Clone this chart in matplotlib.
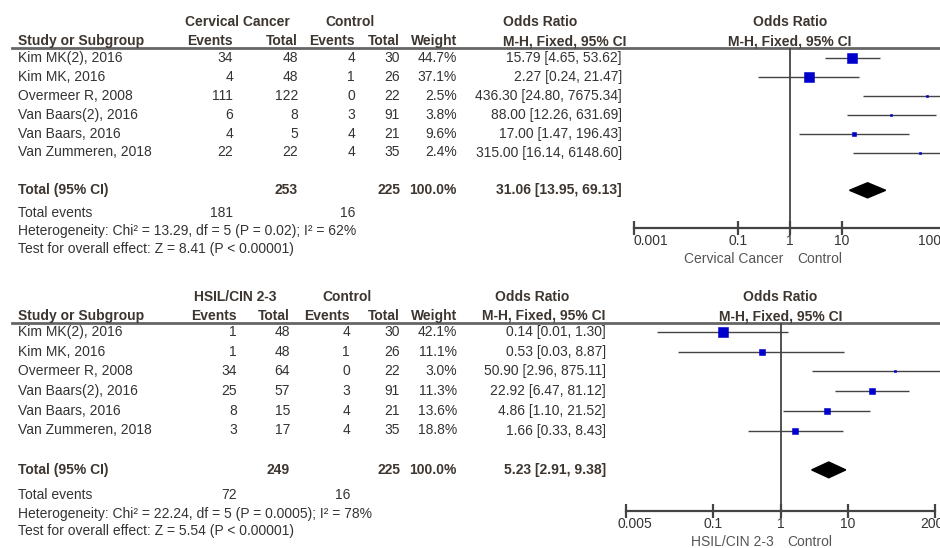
import numpy as np
import matplotlib.pyplot as plt
from matplotlib.ticker import NullLocator, FixedLocator

plt.rcParams['font.family'] = ['Liberation Sans', 'DejaVu Sans']

W, H = 940, 548
FS = 10
TXT = '#333333'
HDR = '#3d3630'
LINE = '#444444'
BLUE = '#0000cc'

studies = ["Kim MK(2), 2016", "Kim MK, 2016", "Overmeer R, 2008",
           "Van Baars(2), 2016", "Van Baars, 2016", "Van Zummeren, 2018"]

ctrl_events = [4, 1, 0, 3, 4, 4]
ctrl_total = [30, 26, 22, 91, 21, 35]

# cervical cancer vs control
cc_events = [34, 4, 111, 6, 4, 22]
cc_total = [48, 48, 122, 8, 5, 22]
cc_weight = [44.7, 37.1, 2.5, 3.8, 9.6, 2.4]
cc_or = [15.79, 2.27, 436.30, 88.00, 17.00, 315.00]
cc_lo = [4.65, 0.24, 24.80, 12.26, 1.47, 16.14]
cc_hi = [53.62, 21.47, 7675.34, 631.69, 196.43, 6148.60]
cc_pooled = [31.06, 13.95, 69.13]
cc_sums = [253, 225, 181, 16]
cc_het = [13.29, 5, "0.02", 62]
cc_z = [8.41, "< 0.00001"]
cc_ticks = [0.001, 0.1, 1, 10, 1000]
cc_ticklabels = ["0.001", "0.1", "1", "10", "1000"]

# HSIL/CIN 2-3 vs control
hs_events = [1, 1, 34, 25, 8, 3]
hs_total = [48, 48, 64, 57, 15, 17]
hs_weight = [42.1, 11.1, 3.0, 11.3, 13.6, 18.8]
hs_or = [0.14, 0.53, 50.90, 22.92, 4.86, 1.66]
hs_lo = [0.0147, 0.03, 2.96, 6.47, 1.10, 0.33]
hs_hi = [1.30, 8.87, 875.11, 81.12, 21.52, 8.43]
hs_pooled = [5.23, 2.91, 9.38]
hs_sums = [249, 225, 72, 16]
hs_het = [22.24, 5, "0.0005", 78]
hs_z = [5.54, "< 0.00001"]
hs_ticks = [0.005, 0.1, 1, 10, 200]
hs_ticklabels = ["0.005", "0.1", "1", "10", "200"]

fig = plt.figure(figsize=(W / 100, H / 100), dpi=100)
bg = fig.add_axes([0, 0, 1, 1])
bg.set_xlim(0, W)
bg.set_ylim(H, 0)
bg.axis('off')


def txt(x, y, s, ha='left', bold=False, color=None):
    bg.text(x, y, s, ha=ha, va='center', fontsize=FS,
            fontweight='bold' if bold else 'normal',
            color=color or (HDR if bold else TXT))


def panel(top, group, ev, tot, wt, ors, lo, hi, pooled, sums, het, z,
          ticks, ticklabels, label_shift, cols, or_x, or_hdr_x, fx0, fx1,
          row0, step, axis_y, foot_y):
    # table header
    txt((cols[0] + cols[1]) / 2 - 28, top, group, ha='center', bold=True)
    txt((cols[2] + cols[3]) / 2 - 28, top, "Control", ha='center', bold=True)
    hy = top + 19
    txt(18, hy, "Study or Subgroup", bold=True)
    for c, s in zip(cols, ["Events", "Total", "Events", "Total", "Weight"]):
        txt(c, hy, s, ha='right', bold=True)
    txt(or_hdr_x[0], top, "Odds Ratio", bold=True)
    txt(or_hdr_x[1], hy, "M-H, Fixed, 95% CI", bold=True)
    line_y = top + 26
    bg.plot([12, W], [line_y, line_y], color='#666666', lw=2)

    # study rows
    for i, name in enumerate(studies):
        y = row0 + i * step
        txt(18, y, name)
        vals = [ev[i], tot[i], ctrl_events[i], ctrl_total[i]]
        for c, v in zip(cols, vals):
            txt(c, y, str(v), ha='right')
        txt(cols[4], y, f"{wt[i]:.1f}%", ha='right')
        txt(or_x, y, f"{ors[i]:.2f} [{lo[i]:.2f}, {hi[i]:.2f}]", ha='right')

    ty = row0 + 7 * step
    txt(18, ty, "Total (95% CI)", bold=True)
    txt(cols[1], ty, str(sums[0]), ha='right', bold=True)
    txt(cols[3], ty, str(sums[1]), ha='right', bold=True)
    txt(cols[4], ty, "100.0%", ha='right', bold=True)
    txt(or_x, ty, f"{pooled[0]:.2f} [{pooled[1]:.2f}, {pooled[2]:.2f}]",
        ha='right', bold=True)
    txt(18, foot_y[0], "Total events")
    txt(cols[0], foot_y[0], str(sums[2]), ha='right')
    txt(cols[2], foot_y[0], str(sums[3]), ha='right')
    txt(18, foot_y[1], f"Heterogeneity: Chi² = {het[0]:.2f}, df = {het[1]} "
        f"(P = {het[2]}); I² = {het[3]}%")
    txt(18, foot_y[2], f"Test for overall effect: Z = {z[0]:.2f} (P {z[1]})")

    # forest plot
    ax = fig.add_axes([fx0 / W, 1 - axis_y / H, (fx1 - fx0) / W,
                       (axis_y - line_y) / H])
    ax.set_xscale('log')
    ax.set_xlim(ticks[0], ticks[-1])
    ax.set_ylim((axis_y - row0) / step, (line_y - row0) / step)
    ax.patch.set_visible(False)
    for s in ['top', 'right', 'left']:
        ax.spines[s].set_visible(False)
    ax.spines['bottom'].set_color(LINE)
    ax.spines['bottom'].set_linewidth(1.6)
    ax.yaxis.set_major_locator(NullLocator())
    ax.xaxis.set_major_locator(FixedLocator(ticks))
    ax.xaxis.set_minor_locator(NullLocator())
    ax.tick_params(axis='x', direction='inout', length=10, width=1.6,
                   color=LINE, labelbottom=False)
    for t, lab, dx in zip(ticks, ticklabels, label_shift):
        ax.annotate(lab, xy=(t, 0), xycoords=('data', 'axes fraction'),
                    xytext=(dx * 0.72, -9.5), textcoords='offset points',
                    ha='center', va='center', fontsize=FS, color=TXT,
                    annotation_clip=False)
    ax.axvline(1, color=LINE, lw=1.3)

    rows = np.arange(len(studies))
    ax.hlines(rows, lo, hi, color=LINE, lw=1.0, clip_on=False)
    for r, o, w in zip(rows, ors, wt):
        ax.plot(o, r, marker='s', ms=1.1 * np.sqrt(w), color=BLUE,
                mec=BLUE, mew=0.4, clip_on=False, zorder=3)
    ax.fill([pooled[1], pooled[0], pooled[2], pooled[0]],
            [7, 7 - 0.4, 7, 7 + 0.4], color='black', zorder=3)

    ax.annotate(group, xy=(1, 0), xycoords=('data', 'axes fraction'),
                xytext=(-5, -22), textcoords='offset points', ha='right',
                va='center', fontsize=FS, color='#555555')
    ax.annotate("Control", xy=(1, 0), xycoords=('data', 'axes fraction'),
                xytext=(5, -22), textcoords='offset points', ha='left',
                va='center', fontsize=FS, color='#555555')
    ax.annotate("Odds Ratio", xy=(1, 1), xycoords=('data', 'axes fraction'),
                xytext=(0, 19), textcoords='offset points', ha='center',
                va='center', fontsize=FS, fontweight='bold', color=HDR)
    ax.annotate("M-H, Fixed, 95% CI", xy=(1, 1),
                xycoords=('data', 'axes fraction'), xytext=(0, 5),
                textcoords='offset points', ha='center', va='center',
                fontsize=FS, fontweight='bold', color=HDR)


panel(22, "Cervical Cancer", cc_events, cc_total, cc_weight, cc_or, cc_lo,
      cc_hi, cc_pooled, cc_sums, cc_het, cc_z, cc_ticks, cc_ticklabels,
      label_shift=[17, 0, 0, 0, -13],
      cols=[233, 298, 355, 400, 457], or_x=622, or_hdr_x=[503, 503],
      fx0=634, fx1=946, row0=58, step=18.9, axis_y=228,
      foot_y=[213, 231, 249])

panel(297, "HSIL/CIN 2-3", hs_events, hs_total, hs_weight, hs_or, hs_lo,
      hs_hi, hs_pooled, hs_sums, hs_het, hs_z, hs_ticks, hs_ticklabels,
      label_shift=[9, 0, 0, 0, -3],
      cols=[237, 290, 350, 400, 457], or_x=606, or_hdr_x=[495, 482],
      fx0=626, fx1=935, row0=332, step=19.7, axis_y=511,
      foot_y=[495, 514, 531])

fig.savefig('out.png', dpi=100)
